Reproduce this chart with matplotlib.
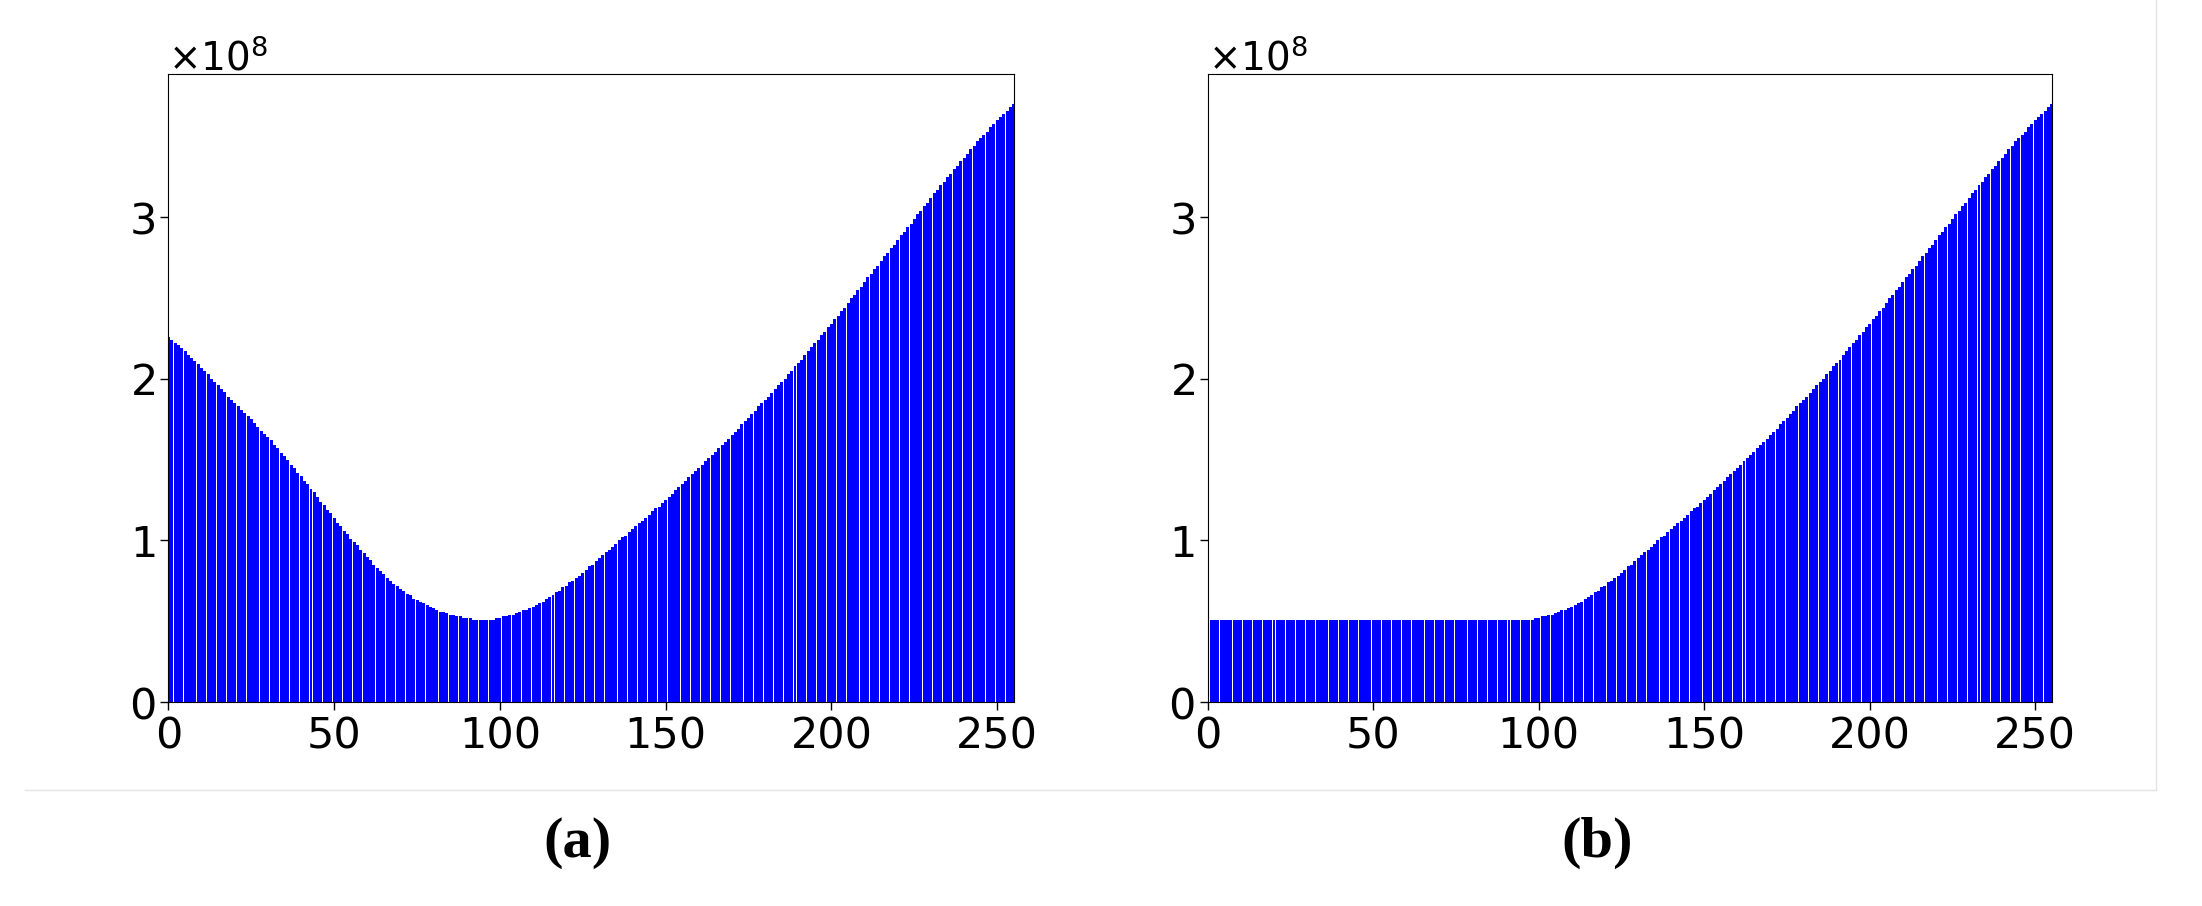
import numpy as np
import matplotlib.pyplot as plt
from matplotlib.ticker import ScalarFormatter
from matplotlib.lines import Line2D

# grey levels 0..255 on the x axis
levels = np.arange(256)

# bar heights, in units of 1e8
vals_a = [
    2.26, 2.24, 2.22, 2.21, 2.19, 2.17, 2.15, 2.13, 2.11, 2.09,
    2.07, 2.05, 2.03, 2.00, 1.98, 1.96, 1.94, 1.92, 1.89, 1.87,
    1.85, 1.83, 1.81, 1.79, 1.77, 1.75, 1.73, 1.70, 1.68, 1.66,
    1.64, 1.62, 1.59, 1.57, 1.54, 1.52, 1.50, 1.47, 1.45, 1.42,
    1.40, 1.37, 1.35, 1.32, 1.30, 1.27, 1.24, 1.22, 1.19, 1.17,
    1.14, 1.11, 1.09, 1.06, 1.04, 1.01, 0.99, 0.97, 0.94, 0.92,
    0.90, 0.88, 0.85, 0.83, 0.81, 0.79, 0.77, 0.75, 0.73, 0.72,
    0.70, 0.69, 0.67, 0.66, 0.64, 0.63, 0.62, 0.61, 0.60, 0.59,
    0.58, 0.57, 0.56, 0.56, 0.55, 0.54, 0.54, 0.53, 0.53, 0.52,
    0.52, 0.52, 0.51, 0.51, 0.51, 0.51, 0.51, 0.51, 0.51, 0.52,
    0.52, 0.53, 0.53, 0.54, 0.54, 0.55, 0.56, 0.57, 0.57, 0.58,
    0.59, 0.60, 0.61, 0.62, 0.64, 0.65, 0.66, 0.68, 0.69, 0.71,
    0.72, 0.74, 0.75, 0.77, 0.78, 0.80, 0.82, 0.84, 0.85, 0.87,
    0.89, 0.91, 0.93, 0.94, 0.96, 0.98, 1.00, 1.02, 1.03, 1.05,
    1.07, 1.09, 1.11, 1.12, 1.14, 1.16, 1.18, 1.20, 1.21, 1.23,
    1.25, 1.27, 1.29, 1.31, 1.33, 1.35, 1.37, 1.39, 1.41, 1.43,
    1.45, 1.47, 1.49, 1.51, 1.53, 1.55, 1.57, 1.59, 1.61, 1.63,
    1.65, 1.67, 1.69, 1.72, 1.74, 1.76, 1.78, 1.80, 1.83, 1.85,
    1.87, 1.89, 1.91, 1.94, 1.96, 1.98, 2.00, 2.03, 2.05, 2.08,
    2.10, 2.12, 2.15, 2.17, 2.20, 2.22, 2.24, 2.27, 2.29, 2.32,
    2.34, 2.37, 2.39, 2.42, 2.44, 2.47, 2.50, 2.52, 2.55, 2.57,
    2.60, 2.63, 2.65, 2.68, 2.70, 2.73, 2.76, 2.78, 2.81, 2.83,
    2.86, 2.89, 2.91, 2.94, 2.96, 2.99, 3.02, 3.04, 3.07, 3.09,
    3.12, 3.15, 3.17, 3.20, 3.22, 3.25, 3.27, 3.30, 3.32, 3.35,
    3.37, 3.39, 3.42, 3.44, 3.47, 3.49, 3.51, 3.53, 3.56, 3.58,
    3.60, 3.62, 3.64, 3.66, 3.68, 3.70,
]

# (b): flat floor up to ~97, then the same rising edge as (a)
vals_b = [0.51] * 98 + vals_a[98:]

panel_labels = ['(a)', '(b)']
x_ticks = [0, 50, 100, 150, 200, 250]
y_ticks = [0, 1e8, 2e8, 3e8]

fig = plt.figure(figsize=(22.02, 9.06), dpi=100)
ax_a = fig.add_axes([0.0765, 0.2252, 0.3839, 0.6927])
ax_b = fig.add_axes([0.5485, 0.2252, 0.3833, 0.6927])

for ax, vals in zip([ax_a, ax_b], [vals_a, vals_b]):
    ax.bar(levels, np.array(vals) * 1e8, width=0.9, color='blue')
    ax.set_xlim(0, 255)
    ax.set_xticks(x_ticks)
    ax.set_yticks(y_ticks)
    fmt = ScalarFormatter(useMathText=True)
    ax.yaxis.set_major_formatter(fmt)
    ax.tick_params(labelsize=31, length=6, width=1)
    ax.yaxis.get_offset_text().set_fontsize(28)

# sub-figure captions
fig.text(578 / 2202, 1 - 843 / 906, panel_labels[0], fontsize=42, fontweight='bold',
         family='Liberation Serif', ha='center', va='center')
fig.text(1597 / 2202, 1 - 843 / 906, panel_labels[1], fontsize=42, fontweight='bold',
         family='Liberation Serif', ha='center', va='center')

# faint frame lines left over from the original screenshot
y_line = 1 - 790 / 906
fig.add_artist(Line2D([25 / 2202, 2156 / 2202], [y_line, y_line], color='#e4e4e4', lw=1))
fig.add_artist(Line2D([2156 / 2202, 2156 / 2202], [y_line, 1], color='#e4e4e4', lw=1))

plt.savefig('out.png', dpi=100)
